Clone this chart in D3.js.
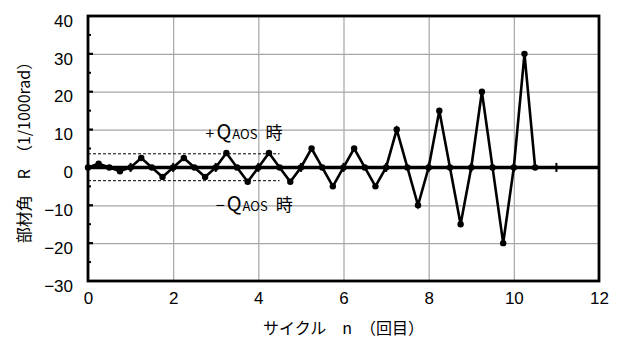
<!DOCTYPE html>
<html>
<head>
<meta charset="utf-8">
<script src="https://cdn.jsdelivr.net/npm/d3@7"></script>
<style>
  html, body { margin: 0; padding: 0; background: #fff; }
  svg text { font-family: "Noto Sans CJK JP", "Liberation Sans", sans-serif; fill: #000; }
  svg .num text, svg text.num { font-family: "Liberation Sans", Arial, sans-serif; }
</style>
</head>
<body>
<svg id="chart" width="626" height="341"></svg>
<script>
// Loading cycles: cycle number n and member rotation angle R (1/1000 rad)
const cycleN = [0, 0.25, 0.5, 0.75, 1,
  1.25, 1.5, 1.75, 2,
  2.25, 2.5, 2.75, 3,
  3.25, 3.5, 3.75, 4,
  4.25, 4.5, 4.75, 5,
  5.25, 5.5, 5.75, 6,
  6.25, 6.5, 6.75, 7,
  7.25, 7.5, 7.75, 8,
  8.25, 8.5, 8.75, 9,
  9.25, 9.5, 9.75, 10,
  10.25, 10.5];
const rotationR = [0, 1, 0, -1, 0,
  2.5, 0, -2.5, 0,
  2.5, 0, -2.5, 0,
  3.8, 0, -3.8, 0,
  3.8, 0, -3.8, 0,
  5, 0, -5, 0,
  5, 0, -5, 0,
  10, 0, -10, 0,
  15, 0, -15, 0,
  20, 0, -20, 0,
  30, 0];

// Reference levels for +Q_AOS / -Q_AOS
const qLevels = [3.6, -3.5];
const qSpanN = [0, 4.5];

const xTicks = [0, 2, 4, 6, 8, 10, 12];
const yTicks = [-30, -20, -10, 0, 10, 20, 30, 40];
const yMinorTicks = [-25, -15, -5, 5, 15, 25, 35];
const zeroLineTicks = [1, 2, 3, 4, 5, 6, 7, 8, 9, 10, 11];

const W = 626, H = 341;
const margin = { left: 88, right: 27, top: 16, bottom: 60 };
const svg = d3.select("#chart");

const x = d3.scaleLinear().domain([0, 12]).range([margin.left, W - margin.right]);
const y = d3.scaleLinear().domain([-30, 40]).range([H - margin.bottom, margin.top]);

const fmt = v => (v < 0 ? "\u2212" + Math.abs(v) : String(v));

// grid
svg.append("g")
  .attr("transform", `translate(0,${y(-30)})`)
  .call(d3.axisBottom(x).tickValues(xTicks.slice(1, -1)).tickSize(-(y(-30) - y(40))).tickFormat(""))
  .call(g => g.select(".domain").remove())
  .call(g => g.selectAll("line").attr("stroke", "#a6a6a6").attr("stroke-width", 1.2));
svg.append("g")
  .attr("transform", `translate(${x(0)},0)`)
  .call(d3.axisLeft(y).tickValues(yTicks.filter(v => v !== 0 && v !== 40 && v !== -30)).tickSize(-(x(12) - x(0))).tickFormat(""))
  .call(g => g.select(".domain").remove())
  .call(g => g.selectAll("line").attr("stroke", "#a6a6a6").attr("stroke-width", 1.2));

// frame
svg.append("rect")
  .attr("x", x(0)).attr("y", y(40))
  .attr("width", x(12) - x(0)).attr("height", y(-30) - y(40))
  .attr("fill", "none").attr("stroke", "#000").attr("stroke-width", 2.8);

// y axis: labels and inward ticks
const yAxis = svg.append("g").attr("class", "num").attr("transform", `translate(${x(0)},0)`);
yAxis.call(d3.axisLeft(y).tickValues(yTicks).tickSize(0).tickPadding(15).tickFormat(fmt))
  .call(g => g.select(".domain").remove())
  .call(g => g.selectAll("text").attr("font-size", 17).attr("dy", "0.6em"));
yAxis.selectAll("line.maj").data(yTicks.slice(1, -1)).join("line")
  .attr("x1", 0).attr("x2", 5).attr("y1", d => y(d)).attr("y2", d => y(d))
  .attr("stroke", "#000").attr("stroke-width", 2.2);
yAxis.selectAll("line.min").data(yMinorTicks).join("line")
  .attr("x1", 0).attr("x2", 3).attr("y1", d => y(d)).attr("y2", d => y(d))
  .attr("stroke", "#000").attr("stroke-width", 2);

// x axis labels
svg.append("g")
  .attr("class", "num")
  .attr("transform", `translate(0,${y(-30)})`)
  .call(d3.axisBottom(x).tickValues(xTicks).tickSize(0).tickPadding(11).tickFormat(fmt))
  .call(g => g.select(".domain").remove())
  .call(g => g.selectAll("text").attr("font-size", 17));

// zero line with crossing ticks
svg.append("line")
  .attr("x1", x(0)).attr("x2", x(12)).attr("y1", y(0)).attr("y2", y(0))
  .attr("stroke", "#000").attr("stroke-width", 3.5);
svg.append("g").selectAll("line").data(zeroLineTicks).join("line")
  .attr("x1", d => x(d)).attr("x2", d => x(d))
  .attr("y1", y(0) - 4.5).attr("y2", y(0) + 4.5)
  .attr("stroke", "#000").attr("stroke-width", 2);

// Q_AOS dashed reference lines
svg.append("g").selectAll("line").data(qLevels).join("line")
  .attr("x1", x(qSpanN[0])).attr("x2", x(qSpanN[1]))
  .attr("y1", d => y(d)).attr("y2", d => y(d))
  .attr("stroke", "#000").attr("stroke-width", 1).attr("stroke-dasharray", "3,2");

// rotation history
const pts = cycleN.map((n, i) => [n, rotationR[i]]);
svg.append("path")
  .datum(pts)
  .attr("d", d3.line().x(d => x(d[0])).y(d => y(d[1])))
  .attr("fill", "none").attr("stroke", "#000").attr("stroke-width", 2.6)
  .attr("stroke-linejoin", "miter");
svg.append("g").selectAll("circle").data(pts).join("circle")
  .attr("cx", d => x(d[0])).attr("cy", d => y(d[1])).attr("r", 3.2).attr("fill", "#000");

// annotations
function qLabel(sign, n, yy) {
  const t = svg.append("text").attr("x", x(n)).attr("y", yy).attr("font-size", 16);
  t.append("tspan").text(sign);
  t.append("tspan").text("Q").attr("font-size", 20).attr("dx", 2);
  t.append("tspan").text("AOS").attr("font-size", 13).attr("dx", 1);
  t.append("tspan").text("時").attr("font-size", 17).attr("dx", 8);
}
qLabel("+", 2.76, y(7.4));
qLabel("\u2212", 3.0, y(-11.5));

// axis titles
svg.append("text")
  .attr("x", (x(0) + x(12)) / 2).attr("y", 334)
  .attr("text-anchor", "middle").attr("font-size", 16)
  .text("サイクル\u3000n\u3000（回目）");
svg.append("text")
  .attr("transform", `translate(30,${(y(40) + y(-30)) / 2}) rotate(-90)`)
  .attr("text-anchor", "middle").attr("font-size", 16)
  .text("部材角\u3000R\u3000（1/1000rad）");
</script>
</body>
</html>
